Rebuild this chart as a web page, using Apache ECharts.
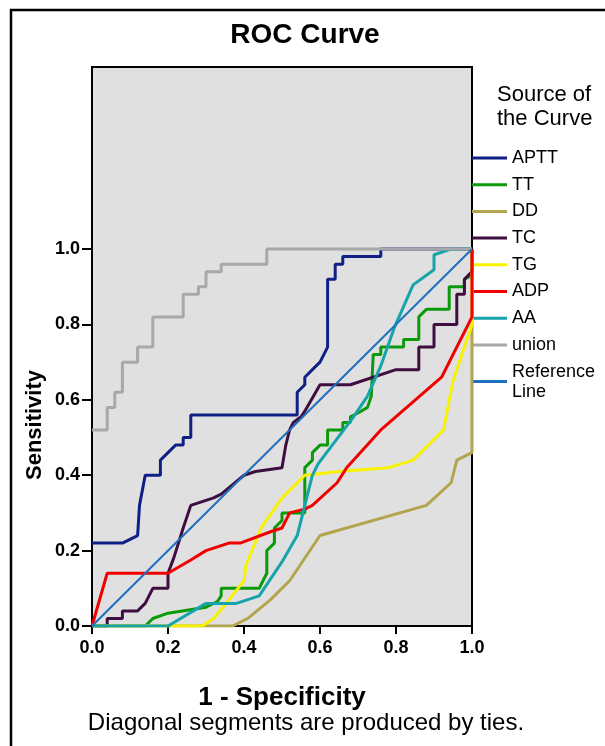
<!DOCTYPE html>
<html>
<head>
<meta charset="utf-8">
<script src="https://cdn.jsdelivr.net/npm/echarts@6/dist/echarts.min.js"></script>
<style>html,body{margin:0;padding:0;background:#fff;}#c{width:605px;height:746px;}</style>
</head>
<body>
<div id="c"></div>
<script>
// ---- data (1 - specificity, sensitivity) ----
const tickValues = [0, 0.2, 0.4, 0.6, 0.8, 1.0];
const seriesNames = ['APTT', 'TT', 'DD', 'TC', 'TG', 'ADP', 'AA', 'union', 'Reference Line'];
const APTT = [[0,0.22],[0.08,0.22],[0.12,0.24],[0.125,0.32],[0.14,0.40],[0.18,0.40],[0.18,0.44],[0.20,0.46],[0.22,0.48],[0.24,0.48],[0.24,0.50],[0.26,0.50],[0.26,0.56],[0.54,0.56],[0.54,0.62],[0.56,0.64],[0.56,0.66],[0.58,0.68],[0.60,0.70],[0.62,0.74],[0.62,0.92],[0.64,0.92],[0.64,0.96],[0.66,0.96],[0.66,0.98],[0.76,0.98],[0.76,1.0],[1,1]];
const TT = [[0,0],[0.14,0],[0.16,0.02],[0.20,0.034],[0.30,0.05],[0.33,0.065],[0.34,0.08],[0.34,0.10],[0.44,0.10],[0.46,0.14],[0.46,0.20],[0.48,0.22],[0.48,0.26],[0.50,0.28],[0.50,0.30],[0.56,0.30],[0.56,0.42],[0.58,0.44],[0.58,0.46],[0.60,0.48],[0.62,0.48],[0.62,0.52],[0.66,0.52],[0.66,0.54],[0.68,0.54],[0.68,0.555],[0.70,0.565],[0.725,0.58],[0.735,0.61],[0.74,0.72],[0.76,0.72],[0.76,0.74],[0.82,0.74],[0.82,0.76],[0.86,0.76],[0.86,0.82],[0.88,0.84],[0.94,0.84],[0.94,0.90],[0.98,0.90],[0.98,0.92],[1,0.93],[1,1]];
const DD = [[0,0],[0.37,0],[0.41,0.02],[0.47,0.07],[0.52,0.12],[0.60,0.24],[0.88,0.32],[0.945,0.38],[0.96,0.44],[1,0.46],[1,1]];
const TC = [[0,0],[0.04,0],[0.04,0.02],[0.08,0.02],[0.08,0.04],[0.12,0.04],[0.14,0.06],[0.16,0.10],[0.20,0.10],[0.20,0.14],[0.215,0.18],[0.24,0.26],[0.26,0.32],[0.32,0.34],[0.34,0.35],[0.40,0.40],[0.43,0.41],[0.50,0.42],[0.51,0.48],[0.52,0.52],[0.53,0.54],[0.55,0.555],[0.56,0.57],[0.60,0.64],[0.68,0.64],[0.80,0.68],[0.86,0.68],[0.86,0.74],[0.90,0.74],[0.90,0.80],[0.96,0.80],[0.96,0.88],[0.98,0.88],[0.98,0.92],[1,0.94],[1,1]];
const TG = [[0,0],[0.29,0],[0.32,0.02],[0.345,0.05],[0.40,0.12],[0.405,0.16],[0.445,0.26],[0.50,0.34],[0.56,0.40],[0.65,0.41],[0.78,0.42],[0.845,0.44],[0.925,0.52],[0.95,0.65],[1,0.80],[1,1]];
const ADP = [[0,0],[0.04,0.14],[0.20,0.14],[0.26,0.175],[0.30,0.20],[0.36,0.22],[0.39,0.22],[0.47,0.25],[0.50,0.26],[0.52,0.30],[0.56,0.31],[0.58,0.32],[0.645,0.38],[0.67,0.42],[0.76,0.52],[0.92,0.66],[1,0.82],[1,1]];
const AA = [[0,0],[0.20,0],[0.30,0.06],[0.38,0.06],[0.44,0.08],[0.50,0.17],[0.54,0.24],[0.565,0.34],[0.58,0.40],[0.595,0.43],[0.685,0.55],[0.725,0.61],[0.76,0.69],[0.795,0.79],[0.845,0.905],[0.90,0.945],[0.90,0.985],[0.945,1.0],[1,1]];
const union = [[0,0.52],[0.04,0.52],[0.04,0.58],[0.06,0.58],[0.06,0.62],[0.08,0.62],[0.08,0.70],[0.12,0.70],[0.12,0.74],[0.16,0.74],[0.16,0.82],[0.24,0.82],[0.24,0.88],[0.28,0.88],[0.28,0.90],[0.30,0.90],[0.30,0.94],[0.34,0.94],[0.34,0.96],[0.46,0.96],[0.46,1.0],[1,1]];
const referenceLine = [[0,0],[1,1]];

const colors = ['#101F85', '#0A9A0A', '#B3A54E', '#3F0E40', '#F7F200', '#F20000', '#16A3AA', '#A8A8A8', '#1F6FC0'];
const FONT = '"Liberation Sans", Arial, sans-serif';

const dataList = [APTT, TT, DD, TC, TG, ADP, AA, union, referenceLine];
const chart = echarts.init(document.getElementById('c'), null, {renderer: 'canvas'});
const series = seriesNames.map((n, i) => ({
  name: n, type: 'line', data: dataList[i], symbol: 'none', showSymbol: false,
  lineStyle: {color: colors[i], width: i === 8 ? 2 : 3}, itemStyle: {color: colors[i]},
  animation: false, clip: true, z: 2 + i
}));

chart.setOption({
  backgroundColor: '#ffffff',
  animation: false,
  grid: {left: 92, top: 67, right: 133, bottom: 120, show: true, backgroundColor: '#E0E0E0', borderColor: '#000', borderWidth: 2},
  xAxis: {
    type: 'value', min: 0, max: 1, interval: 0.2,
    axisLine: {show: true, onZero: false, lineStyle: {color: '#000', width: 2}},
    axisTick: {show: true, length: 8, lineStyle: {color: '#000', width: 2}},
    axisLabel: {color: '#000', fontFamily: FONT, fontWeight: 'bold', fontSize: 18, margin: 13, formatter: v => v.toFixed(1)},
    splitLine: {show: false},
    name: '1 - Specificity', nameLocation: 'middle', nameGap: 59,
    nameTextStyle: {color: '#000', fontFamily: FONT, fontWeight: 'bold', fontSize: 26}
  },
  yAxis: {
    type: 'value', min: 0, max: 1.483, interval: 0.2,
    axisLine: {show: true, onZero: false, lineStyle: {color: '#000', width: 2}},
    axisTick: {show: true, length: 10, customValues: tickValues, lineStyle: {color: '#000', width: 2}},
    axisLabel: {color: '#000', fontFamily: FONT, fontWeight: 'bold', fontSize: 18, margin: 12, customValues: tickValues, formatter: v => v.toFixed(1)},
    splitLine: {show: false}
  },
  legend: {
    orient: 'vertical', left: 472, top: 148, padding: 0, itemWidth: 35, itemHeight: 3, itemGap: 6.7,
    icon: 'rect', data: seriesNames,
    formatter: n => n === 'Reference Line' ? 'Reference\nLine' : n,
    textStyle: {color: '#000', fontFamily: FONT, fontSize: 18, lineHeight: 20}
  },
  graphic: [
    {type: 'rect', shape: {x: 11, y: 10, width: 620, height: 760}, style: {fill: 'none', stroke: '#000', lineWidth: 2.5}, silent: true},
    {type: 'text', x: 305, y: 35, style: {text: 'ROC Curve', font: 'bold 28px ' + FONT, fill: '#000', align: 'center', verticalAlign: 'middle', textAlign: 'center', textVerticalAlign: 'middle'}},
    {type: 'text', x: 35, y: 425, rotation: Math.PI / 2, style: {text: 'Sensitivity', font: 'bold 22px ' + FONT, fill: '#000', align: 'center', verticalAlign: 'middle', textAlign: 'center', textVerticalAlign: 'middle'}},
    {type: 'text', x: 306, y: 723, style: {text: 'Diagonal segments are produced by ties.', font: '24px ' + FONT, fill: '#000', align: 'center', verticalAlign: 'middle', textAlign: 'center', textVerticalAlign: 'middle'}},
    {type: 'text', x: 497, y: 107, style: {text: 'Source of\nthe Curve', font: '22px ' + FONT, lineHeight: 24, fill: '#000', align: 'left', verticalAlign: 'middle', textAlign: 'left', textVerticalAlign: 'middle'}}
  ],
  series: series
});
</script>
</body>
</html>
